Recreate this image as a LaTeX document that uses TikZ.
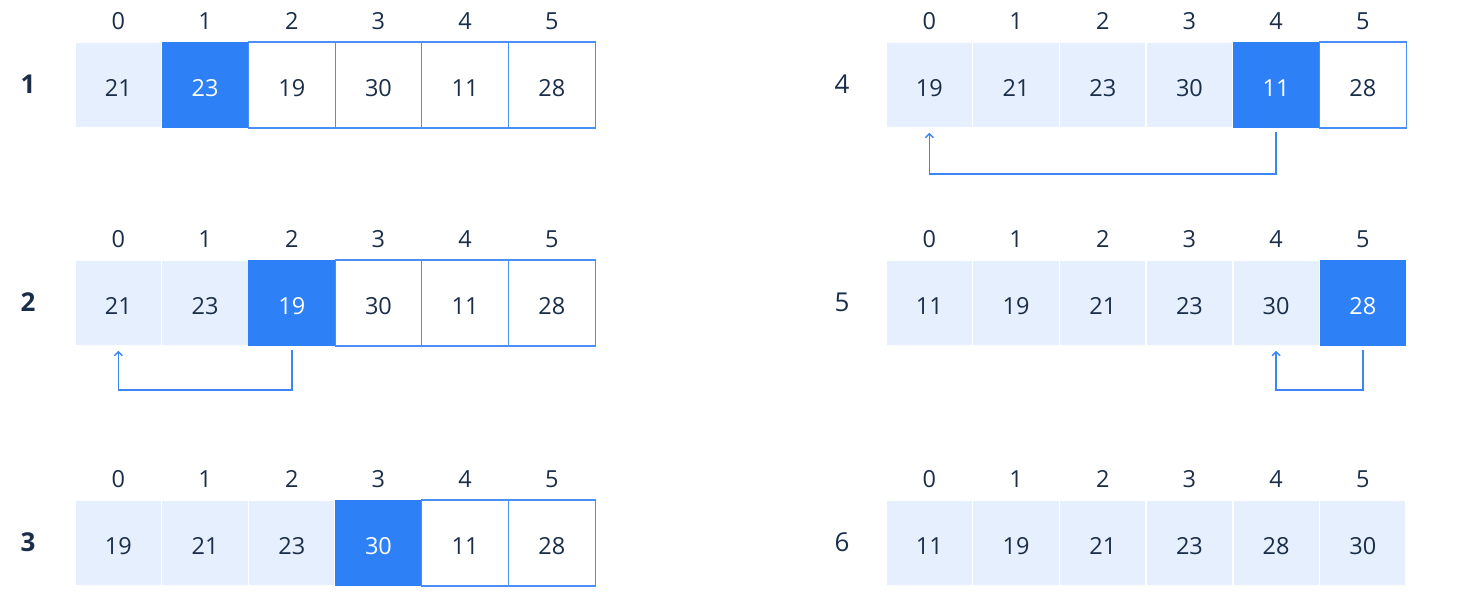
\documentclass[tikz,border=0pt]{standalone}
\usepackage{fontspec}
\setmainfont{Open Sans}
\usetikzlibrary{arrows.meta}
\definecolor{lightc}{HTML}{E5EFFD}
\definecolor{darkc}{HTML}{2D80F6}
\definecolor{borderc}{HTML}{4A8FF5}
\definecolor{textc}{HTML}{1A2E4A}
\definecolor{arrc}{HTML}{3A86F5}
\tikzset{
  cellbase/.style={minimum width=86.7pt, minimum height=86pt, inner sep=0pt, text height=23pt, text depth=0pt, text=textc, font=\fontsize{23.5}{27}\selectfont},
  cellL/.style={cellbase, fill=lightc, draw=white, line width=1.5pt},
  cellD/.style={cellbase, fill=darkc, text=white},
  cellW/.style={cellbase, fill=white, draw=borderc, line width=1.1pt},
  idx/.style={text=textc, font=\fontsize{23.5}{27}\selectfont, inner sep=0pt},
  rowlabB/.style={text=textc, font=\fontsize{26}{30}\selectfont\bfseries, inner sep=0pt},
  rowlabR/.style={text=textc, font=\fontsize{26}{30}\selectfont, inner sep=0pt},
  swaparrow/.style={draw=arrc, line width=1.6pt, -{Straight Barb[length=4pt,width=8pt,line width=1.4pt]}},
}
\newcommand\arrayrow[7]{%
  \node[#5] (lab#1) at (#2-#7, #3+42) {#4};
  \foreach \v/\t [count=\i from 0] in {#6} {
    \node[cellbase,cell\t] (r#1c\i) at ({#2+(\i+0.5)*86.7}, #3+43) {\v};
    \node[idx] (i#1c\i) at ({#2+(\i+0.5)*86.7}, #3-21) {\i};
  }%
}
\begin{document}
\begin{tikzpicture}[x=1pt,y=-1pt]
\useasboundingbox (0,0) rectangle (1458,606);
\arrayrow{1}{75}{42}{1}{rowlabB}{21/L,23/D,19/W,30/W,11/W,28/W}{47}
\arrayrow{2}{75}{260}{2}{rowlabB}{21/L,23/L,19/D,30/W,11/W,28/W}{47}
\arrayrow{3}{75}{500}{3}{rowlabB}{19/L,21/L,23/L,30/D,11/W,28/W}{47}
\arrayrow{4}{886}{42}{4}{rowlabR}{19/L,21/L,23/L,30/L,11/D,28/W}{44}
\arrayrow{5}{886}{260}{5}{rowlabR}{11/L,19/L,21/L,23/L,30/L,28/D}{44}
\arrayrow{6}{886}{500}{6}{rowlabR}{11/L,19/L,21/L,23/L,28/L,30/L}{44}
\draw[swaparrow] ([yshift=-4pt]r2c2.south) -- ([yshift=-44pt]r2c2.south) -| ([yshift=-4pt]r2c0.south);
\draw[swaparrow] ([yshift=-4pt]r4c4.south) -- ([yshift=-46pt]r4c4.south) -| ([yshift=-4pt]r4c0.south);
\draw[swaparrow] ([yshift=-4pt]r5c5.south) -- ([yshift=-44pt]r5c5.south) -| ([yshift=-4pt]r5c4.south);
\end{tikzpicture}
\end{document}
